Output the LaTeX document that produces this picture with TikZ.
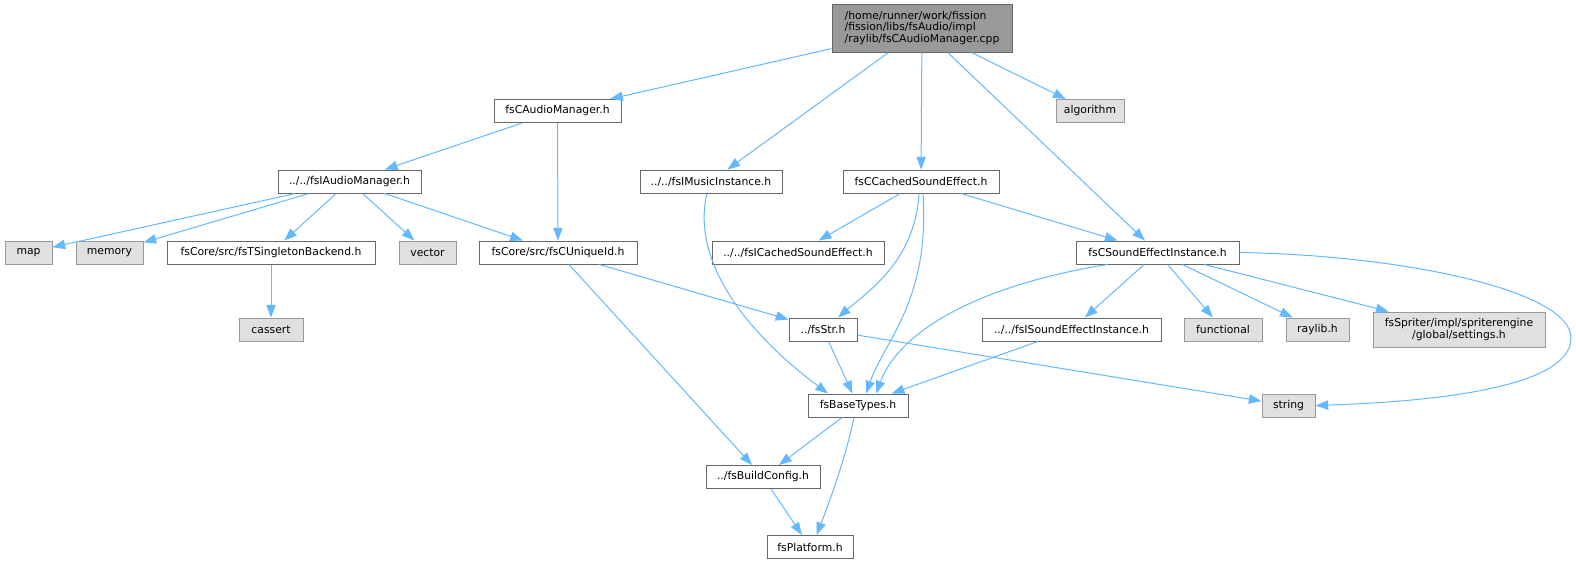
\documentclass[tikz,border=0pt]{standalone}
\usepackage{fontspec}
\setmainfont{DejaVu Sans}
\usetikzlibrary{arrows.meta}
\definecolor{edgeblue}{HTML}{63B8FF}
\definecolor{boxline}{HTML}{666666}
\definecolor{sysline}{HTML}{999999}
\definecolor{sysfill}{HTML}{E0E0E0}
\definecolor{mainfill}{HTML}{999999}

\begin{document}
\begin{tikzpicture}[x=0.75pt,y=0.75pt,yscale=-1,xscale=1,
  filebox/.style={draw=boxline,fill=white,line width=0.75pt,inner sep=0pt,minimum height=17.25pt,font=\fontsize{8.1}{8.8}\selectfont},
  incfile/.style={filebox,minimum width=#1*0.75pt},
  sysfile/.style={filebox,draw=sysline,fill=sysfill,minimum width=#1*0.75pt},
  mainfile/.style={filebox,fill=mainfill,minimum width=#1*0.75pt,minimum height=36pt,align=left},
  dep/.style={draw=edgeblue,line width=0.75pt,-{Triangle[length=9.5pt,width=7pt]}}]
\useasboundingbox (0,0) rectangle (1576,564);

% Node: main file
\node (main) [mainfile=180] at (922,28) {/home/runner/work/fission\\/fission/libs/fsAudio/impl\\/raylib/fsCAudioManager.cpp};
% Row 2
\node (cam) [incfile=127] at (557.5,111) {fsCAudioManager.h};
\node (algo) [sysfile=68] at (1090,111) {algorithm};
% Row 3
\node (iam) [incfile=143] at (349.5,181.5) {../../fsIAudioManager.h};
\node (imi) [incfile=142] at (711,181.5) {../../fsIMusicInstance.h};
\node (ccse) [incfile=156] at (921,181.5) {fsCCachedSoundEffect.h};
% Row 4
\node (map) [sysfile=47] at (28.5,252.5) {map};
\node (mem) [sysfile=67] at (109.5,252.5) {memory};
\node (tsb) [incfile=208] at (271,252.5) {fsCore/src/fsTSingletonBackend.h};
\node (vec) [sysfile=57] at (427.5,252.5) {vector};
\node (uid) [incfile=158] at (558,252.5) {fsCore/src/fsCUniqueId.h};
\node (icse) [incfile=172] at (798,252.5) {../../fsICachedSoundEffect.h};
\node (csei) [incfile=163] at (1157.5,252.5) {fsCSoundEffectInstance.h};
% Row 5
\node (cas) [sysfile=64] at (271,329.5) {cassert};
\node (str) [incfile=68] at (823,329.5) {../fsStr.h};
\node (isei) [incfile=179] at (1071.5,329.5) {../../fsISoundEffectInstance.h};
\node (func) [sysfile=78] at (1223,329.5) {functional};
\node (ray) [sysfile=63] at (1317.5,329.5) {raylib.h};
\node (spr) [sysfile=172,minimum height=26.25pt,align=center] at (1459,329.5) {fsSpriter/impl/spriterengine\\/global/settings.h};
% Row 6
\node (bt) [incfile=100] at (858,405.5) {fsBaseTypes.h};
\node (stri) [sysfile=53] at (1288.5,405.5) {string};
% Row 7 and 8
\node (bcfg) [incfile=114] at (763,477) {../fsBuildConfig.h};
\node (plat) [incfile=86] at (810,547) {fsPlatform.h};

% Edges from main file
\draw[dep] (main) -- (cam);
\draw[dep] (main) -- (imi);
\draw[dep] (main) -- (ccse);
\draw[dep] (main) -- (csei);
\draw[dep] (main) -- (algo);
% fsCAudioManager.h
\draw[dep] (cam) -- (iam);
\draw[dep] (cam) -- (uid);
% fsIAudioManager.h
\draw[dep] (iam) -- (map);
\draw[dep] (iam) -- (mem);
\draw[dep] (iam) -- (tsb);
\draw[dep] (iam) -- (vec);
\draw[dep] (iam) -- (uid);
\draw[dep] (tsb) -- (cas);
% fsIMusicInstance.h
\draw[dep] ([xshift=-3pt]imi.south) .. controls (693,250) and (730,320) .. ([xshift=-22.5pt]bt.north);
% fsCCachedSoundEffect.h
\draw[dep] (ccse) -- (icse);
\draw[dep] ([xshift=-1.5pt]ccse.south) .. controls (915,260) and (870,290) .. ([xshift=11.25pt]str.north);
\draw[dep] ([xshift=1.5pt]ccse.south) .. controls (930,300) and (885,340) .. ([xshift=6pt]bt.north);
\draw[dep] (ccse) -- (csei);
% fsCUniqueId.h
\draw[dep] (uid) -- (str);
\draw[dep] (uid) -- (bcfg);
% fsCSoundEffectInstance.h
\draw[dep] ([xshift=-37.5pt]csei.south) .. controls (980,285) and (900,330) .. ([xshift=13.5pt]bt.north);
\draw[dep] (csei) -- (isei);
\draw[dep] (csei) -- (func);
\draw[dep] (csei) -- (ray);
\draw[dep] (csei) -- (spr);
\draw[dep] (csei.east) .. controls (1400,255) and (1571,290) .. (1571,338) .. controls (1571,390) and (1420,402) .. (stri.east);
% lower part
\draw[dep] (str) -- (bt);
\draw[dep] (str) -- (stri);
\draw[dep] (isei) -- (bt);
\draw[dep] (bt) -- (bcfg);
\draw[dep] ([xshift=-3pt]bt.south) .. controls (845,460) and (830,500) .. ([xshift=5pt]plat.north);
\draw[dep] (bcfg) -- (plat);

\end{tikzpicture}
\end{document}
